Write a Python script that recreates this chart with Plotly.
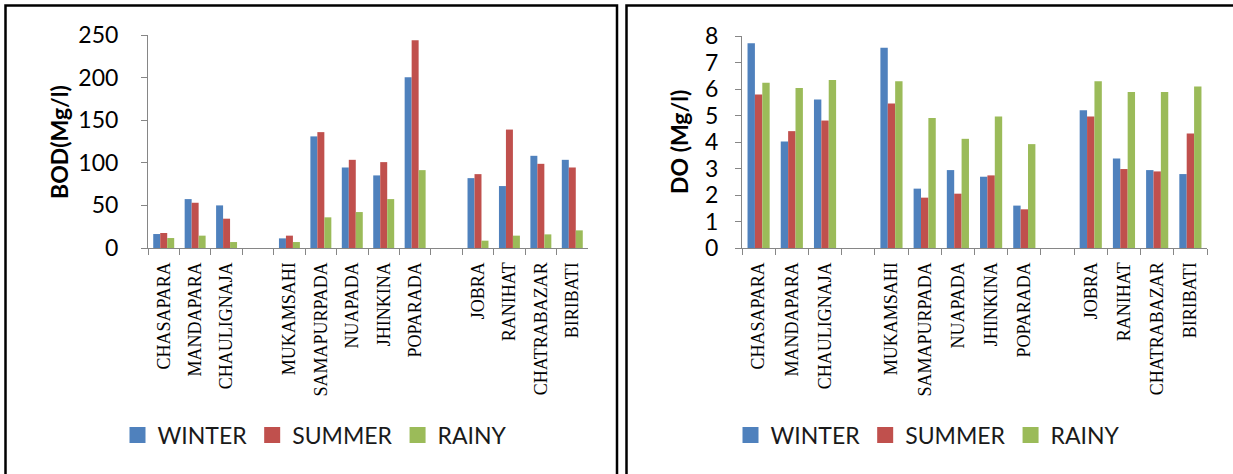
import plotly.graph_objects as go

# Sampling sites (blank entries separate the three river stretches)
sites = ["CHASAPARA", "MANDAPARA", "CHAULIGNAJA", " ",
         "MUKAMSAHI", "SAMAPURPADA", "NUAPADA", "JHINKINA", "POPARADA", "  ",
         "JOBRA", "RANIHAT", "CHATRABAZAR", "BIRIBATI"]
seasons = ["WINTER", "SUMMER", "RAINY"]
colors = ["#4F81BD", "#C0504D", "#9BBB59"]

# BOD (Mg/l)
bod_winter = [16.4, 57.4, 50.0, None, 11.3, 131.0, 94.5, 85.2, 200.4, None, 82.0, 72.7, 108.2, 103.5]
bod_summer = [17.6, 53.1, 34.4, None, 14.5, 136.0, 103.5, 100.8, 243.8, None, 86.7, 139.0, 98.8, 94.5]
bod_rainy = [11.7, 14.5, 7.0, None, 7.0, 36.0, 42.2, 57.4, 91.4, None, 8.6, 14.5, 16.0, 20.7]

# DO (Mg/l)
do_winter = [7.73, 4.02, 5.60, None, 7.56, 2.24, 2.94, 2.69, 1.60, None, 5.20, 3.38, 2.94, 2.79]
do_summer = [5.79, 4.41, 4.81, None, 5.45, 1.90, 2.05, 2.74, 1.46, None, 4.96, 2.98, 2.89, 4.32]
do_rainy = [6.24, 6.04, 6.34, None, 6.29, 4.91, 4.12, 4.96, 3.92, None, 6.29, 5.89, 5.89, 6.09]

W, H = 1233, 474


def px_x(p):
    return p / W


def px_y(p):
    return 1 - p / H


fig = go.Figure()

panels = [
    ("x", "y", "legend", [bod_winter, bod_summer, bod_rainy]),
    ("x2", "y2", "legend2", [do_winter, do_summer, do_rainy]),
]
for xa, ya, lg, series in panels:
    for name, col, vals in zip(seasons, colors, series):
        fig.add_trace(go.Bar(x=sites, y=vals, name=name, marker_color=col,
                             marker_line_width=0, xaxis=xa, yaxis=ya,
                             showlegend=False))
    # legend swatches
    for name, col in zip(seasons, colors):
        fig.add_trace(go.Scatter(x=[None], y=[None], mode="markers", name=name,
                                 marker=dict(symbol="square", size=16, color=col),
                                 xaxis=xa, yaxis=ya, legend=lg))

axis_grey = "#868686"
xfont = dict(family="Liberation Serif", size=18, color="#000000")
yfont = dict(family="Lato", size=23, color="#000000")

common_x = dict(type="category", tickson="boundaries", ticks="outside", ticklen=6,
                tickcolor=axis_grey, showline=True, linecolor=axis_grey, linewidth=1,
                tickangle=-90, tickfont=xfont, showgrid=False, zeroline=False,
                automargin=False, ticklabelstandoff=6)
common_y = dict(ticks="outside", ticklen=6, tickcolor=axis_grey, showline=True,
                linecolor=axis_grey, linewidth=1, tickfont=yfont, showgrid=False,
                zeroline=False, automargin=False)

legend_font = dict(family="Lato", size=23, color="#1a1a1a")

fig.update_layout(
    width=W, height=H,
    margin=dict(l=0, r=0, t=0, b=0),
    template="none",
    paper_bgcolor="white", plot_bgcolor="white",
    barmode="group", bargap=0.333, bargroupgap=0,
    xaxis=dict(domain=[px_x(148), px_x(588)], anchor="y", **common_x),
    yaxis=dict(domain=[px_y(248), px_y(35)], anchor="x", range=[0, 250], dtick=50,
               ticklabelstandoff=18, **common_y),
    xaxis2=dict(domain=[px_x(742), px_x(1207)], anchor="y2", **common_x),
    yaxis2=dict(domain=[px_y(248), px_y(36)], anchor="x2", range=[0, 8], dtick=1,
                ticklabelstandoff=12, **common_y),
    legend=dict(orientation="h", x=px_x(315), y=px_y(435), xanchor="center",
                yanchor="middle", font=legend_font, bgcolor="rgba(0,0,0,0)",
                itemsizing="trace", traceorder="normal", itemwidth=30),
    legend2=dict(orientation="h", x=px_x(928), y=px_y(435), xanchor="center",
                 yanchor="middle", font=legend_font, bgcolor="rgba(0,0,0,0)",
                 itemsizing="trace", traceorder="normal", itemwidth=30),
    annotations=[
        dict(text="<b>BOD(Mg/l)</b>", xref="paper", yref="paper", x=px_x(59), y=px_y(142),
             textangle=-90, showarrow=False, xanchor="center", yanchor="middle",
             font=dict(family="Lato", size=23, color="#000000")),
        dict(text="<b>DO (Mg/l)</b>", xref="paper", yref="paper", x=px_x(679), y=px_y(142),
             textangle=-90, showarrow=False, xanchor="center", yanchor="middle",
             font=dict(family="Lato", size=23, color="#000000")),
    ],
    shapes=[
        # panel frames
        dict(type="rect", xref="paper", yref="paper", x0=px_x(5.5), x1=px_x(617),
             y0=-0.05, y1=px_y(5.5), line=dict(color="#000000", width=2.5),
             fillcolor="rgba(0,0,0,0)"),
        dict(type="rect", xref="paper", yref="paper", x0=px_x(626.5), x1=1.05,
             y0=-0.05, y1=px_y(5.5), line=dict(color="#000000", width=2.5),
             fillcolor="rgba(0,0,0,0)"),
    ],
)

fig.write_html("out.html")
